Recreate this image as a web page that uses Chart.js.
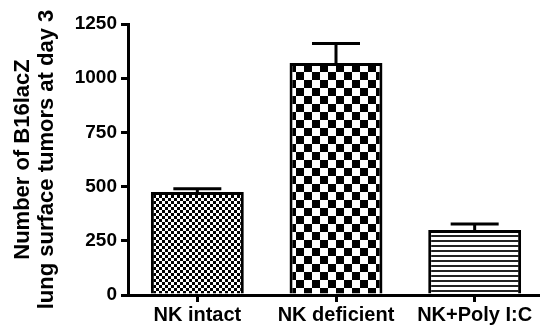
<!DOCTYPE html>
<html>
<head>
<meta charset="utf-8">
<script src="https://cdn.jsdelivr.net/npm/chart.js@4"></script>
<style>
    html, body { margin: 0; padding: 0; background: #fff; overflow: hidden; }
    #wrap { width: 540px; height: 328px; overflow: hidden; position: relative; }
    #wrap canvas { position: absolute; left: 0; top: 0; }
</style>
</head>
<body>
<div id="wrap"><canvas id="tumorChart" width="548" height="328"></canvas></div>
<script>
// values
const groups = ['NK intact', 'NK deficient', 'NK+Poly I:C'];
const tumorMeans = [475, 1070, 300];
const tumorSem = [15, 90, 27];
const yTicks = [0, 250, 500, 750, 1000, 1250];

const FONT = "'Liberation Sans', Arial, sans-serif";

// fill patterns for the bars
function makePattern(w, h, draw) {
    const c = document.createElement('canvas');
    c.width = w;
    c.height = h;
    const g = c.getContext('2d');
    g.fillStyle = '#fff';
    g.fillRect(0, 0, w, h);
    g.fillStyle = '#000';
    draw(g);
    return document.getElementById('tumorChart').getContext('2d').createPattern(c, 'repeat');
}

const fineChecker = makePattern(6, 6, g => {
    g.fillRect(0, 0, 3, 3);
    g.fillRect(3, 3, 3, 3);
});
const bigChecker = makePattern(16, 16, g => {
    g.fillRect(0, 0, 8, 8);
    g.fillRect(8, 8, 8, 8);
});
const stripes = makePattern(4, 5, g => {
    g.fillStyle = '#222';
    g.fillRect(0, 0, 4, 2);
});

// upward-only error bars with caps
const errorBars = {
    id: 'errorBars',
    afterDatasetsDraw(chart) {
        const ctx = chart.ctx;
        const y = chart.scales.y;
        const meta = chart.getDatasetMeta(0);
        ctx.save();
        ctx.strokeStyle = '#000';
        ctx.lineWidth = 3;
        meta.data.forEach((bar, i) => {
            const yMean = y.getPixelForValue(tumorMeans[i]);
            const yTop = y.getPixelForValue(tumorMeans[i] + tumorSem[i]);
            ctx.beginPath();
            ctx.moveTo(bar.x, yMean);
            ctx.lineTo(bar.x, yTop);
            ctx.moveTo(bar.x - 24, yTop);
            ctx.lineTo(bar.x + 24, yTop);
            ctx.stroke();
        });
        ctx.restore();
    }
};

new Chart(document.getElementById('tumorChart'), {
    type: 'bar',
    data: {
        labels: groups,
        datasets: [{
            data: tumorMeans,
            backgroundColor: [fineChecker, bigChecker, stripes],
            borderColor: '#000',
            borderWidth: 3,
            categoryPercentage: 1,
            barPercentage: 0.67
        }]
    },
    options: {
        responsive: false,
        animation: false,
        layout: { padding: { left: 0, top: 24, right: 4, bottom: 0 } },
        plugins: {
            legend: { display: false },
            tooltip: { enabled: false }
        },
        scales: {
            x: {
                afterFit: scale => { scale.height = 33; },
                grid: {
                    drawOnChartArea: false,
                    offset: false,
                    color: '#000',
                    lineWidth: 3,
                    tickLength: 7
                },
                border: { color: '#000', width: 3 },
                ticks: {
                    color: '#000',
                    padding: 1,
                    maxRotation: 0,
                    font: { family: FONT, size: 20, weight: 'bold' }
                }
            },
            y: {
                min: 0,
                max: 1250,
                afterBuildTicks: scale => { scale.ticks = yTicks.map(v => ({ value: v })); },
                afterFit: scale => { scale.width = 128; },
                grid: {
                    drawOnChartArea: false,
                    color: '#000',
                    lineWidth: 3,
                    tickLength: 7
                },
                border: { color: '#000', width: 3 },
                ticks: {
                    color: '#000',
                    padding: 4,
                    callback: v => String(v),
                    font: { family: FONT, size: 19, weight: 'bold' }
                },
                title: {
                    display: true,
                    text: ['Number of B16lacZ', 'lung surface tumors at day 3'],
                    color: '#000',
                    padding: { top: 11, bottom: 0 },
                    font: { family: FONT, size: 22, weight: 'bold', lineHeight: 1.09 }
                }
            }
        }
    },
    plugins: [errorBars]
});
</script>
</body>
</html>
